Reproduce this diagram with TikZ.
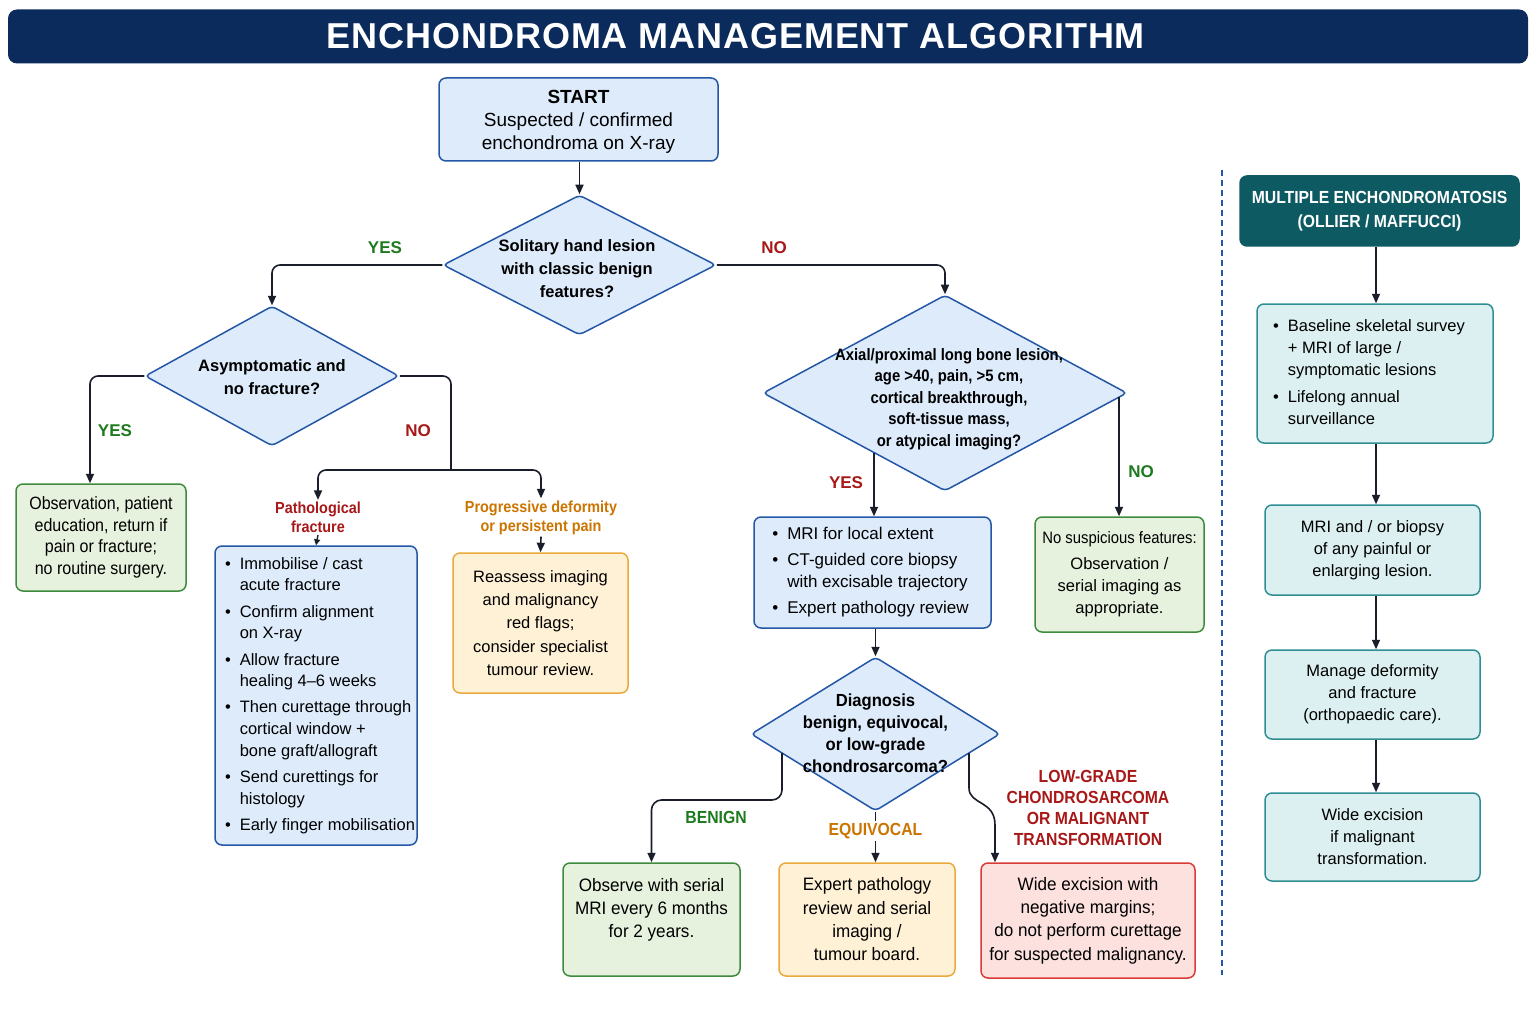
\documentclass[tikz,border=0pt]{standalone}
\usepackage{fontspec}
\setmainfont{Liberation Sans}
\newfontfamily\cond[FakeStretch=0.9]{Liberation Sans}
\newfontfamily\condb[FakeStretch=0.95]{Liberation Sans}
\usetikzlibrary{shapes.geometric,arrows.meta}
\definecolor{navy}{HTML}{0B2B5C}
\definecolor{bblue}{HTML}{2457A6}
\definecolor{bfill}{HTML}{DDEBFB}
\definecolor{ggreen}{HTML}{3E8B3E}
\definecolor{gfill}{HTML}{E6F1DE}
\definecolor{oorange}{HTML}{E9A93B}
\definecolor{ofill}{HTML}{FFF1D6}
\definecolor{rred}{HTML}{D93A3A}
\definecolor{rfill}{HTML}{FCE1DF}
\definecolor{tealh}{HTML}{0D5A63}
\definecolor{tfill}{HTML}{DDF0F1}
\definecolor{tborder}{HTML}{2E8E93}
\definecolor{yesg}{HTML}{1E7A1E}
\definecolor{nored}{HTML}{A81818}
\definecolor{lblor}{HTML}{CC7400}
\definecolor{ink}{HTML}{1A1E2A}
\newcommand\body{\fontsize{16.5}{22}\selectfont}
\newcommand\blist[1]{\begin{tabular}{@{}l@{\hspace{9pt}}l@{}}#1\end{tabular}}
\begin{document}
\begin{tikzpicture}[x=1pt,y=-1pt,
  box/.style={draw, rounded corners=7pt, line width=1.5pt, inner sep=0pt, align=center, font=\body, text=black},
  bluebox/.style={box, draw=bblue, fill=bfill},
  greenbox/.style={box, draw=ggreen, fill=gfill},
  orangebox/.style={box, draw=oorange, fill=ofill},
  redbox/.style={box, draw=rred, fill=rfill},
  tealbox/.style={box, draw=tborder, fill=tfill},
  dia/.style={diamond, draw=bblue, fill=bfill, line width=1.5pt, rounded corners=4pt, inner sep=0pt},
  diatext/.style={align=center, font=\fontsize{16.5}{23}\selectfont\bfseries},
  lbl/.style={font=\fontsize{17}{20}\selectfont\bfseries, align=center, inner sep=2pt},
  arr/.style={draw=ink, line width=1.6pt, -{Triangle[length=9.5pt,width=8pt]}},
  ln/.style={draw=ink, line width=1.6pt},
]
\path[use as bounding box, fill=white] (0,0) rectangle (1536,1024);

% title
\node[fill=navy, rounded corners=9pt, minimum width=1520pt, minimum height=54pt, inner sep=0pt] (title) at (768,36.5) {};
\node[text=white, font=\fontsize{36}{40}\selectfont\bfseries\addfontfeature{LetterSpace=2.5}] (titletext) at (736,36.5)
  {ENCHONDROMA MANAGEMENT ALGORITHM};

% start
\node[bluebox, minimum width=279pt, minimum height=83pt, font=\fontsize{19}{23}\selectfont] (start) at (578.5,119.5) {};
\node[align=center, font=\fontsize{19}{23}\selectfont] (startt) at (578.5,121.5)
  {\textbf{START}\\Suspected / confirmed\\enchondroma on X-ray};

% diamonds
\node[dia, minimum width=273pt, minimum height=140pt] (d1) at (579.5,265) {};
\node[diatext] (d1t) at (577,269) {Solitary hand lesion\\with classic benign\\features?};
\node[dia, minimum width=254pt, minimum height=140pt] (d2) at (272,376) {};
\node[diatext] (d2t) at (272,377) {Asymptomatic and\\no fracture?};
\node[dia, minimum width=364pt, minimum height=196pt] (d3) at (945,393) {};
\node[diatext, font=\fontsize{16.5}{21.6}\selectfont\bfseries\cond] (d3t) at (949,399)
  {Axial/proximal long bone lesion,\\age >40, pain, >5 cm,\\cortical breakthrough,\\soft-tissue mass,\\or atypical imaging?};
\node[dia, minimum width=249pt, minimum height=154pt] (d4) at (875.5,734) {};
\node[diatext, font=\fontsize{17.5}{22}\selectfont\bfseries\condb] (d4t) at (875.5,733)
  {Diagnosis\\benign, equivocal,\\or low-grade\\chondrosarcoma?};

% left branch boxes
\node[greenbox, minimum width=170pt, minimum height=107pt, font=\fontsize{17.8}{21.5}\selectfont\cond] (obs) at (101,537.5)
  {Observation, patient\\education, return if\\pain or fracture;\\no routine surgery.};
\node[lbl, text=nored, font=\fontsize{16}{19}\selectfont\bfseries\cond] (patlab) at (318,517.5) {Pathological\\fracture};
\node[lbl, text=lblor, font=\fontsize{16}{19}\selectfont\bfseries\cond] (proglab) at (541,517.5) {Progressive deformity\\or persistent pain};
\node[bluebox, minimum width=202pt, minimum height=299pt, font=\fontsize{16.5}{21.7}\selectfont] (patbox) at (316,695.5)
  {\hspace*{8pt}\blist{\textbullet & Immobilise / cast\\ & acute fracture\\[4.5pt]
  \textbullet & Confirm alignment\\ & on X-ray\\[4.5pt]
  \textbullet & Allow fracture\\ & healing 4–6 weeks\\[4.5pt]
  \textbullet & Then curettage through\\ & cortical window +\\ & bone graft/allograft\\[4.5pt]
  \textbullet & Send curettings for\\ & histology\\[4.5pt]
  \textbullet & Early finger mobilisation}};
\node[orangebox, minimum width=175pt, minimum height=140pt, font=\fontsize{16.5}{23.2}\selectfont] (reas) at (540.5,623)
  {Reassess imaging\\and malignancy\\red flags;\\consider specialist\\tumour review.};

% middle
\node[bluebox, minimum width=237pt, minimum height=111pt, font=\fontsize{17}{22}\selectfont] (mri) at (872.5,572.5)
  {\blist{\textbullet & MRI for local extent\\[4pt]
  \textbullet & CT-guided core biopsy\\ & with excisable trajectory\\[4pt]
  \textbullet & Expert pathology review}\hspace*{4pt}};
\node[greenbox, minimum width=169pt, minimum height=115pt, font=\fontsize{16.5}{22}\selectfont] (nosus) at (1119.5,574.5)
  {{\cond No suspicious features:}\\[4pt]Observation /\\serial imaging as\\appropriate.};

% bottom
\node[greenbox, minimum width=177pt, minimum height=113pt, font=\fontsize{18}{23.2}\selectfont\condb] (observe) at (651.5,919.5)
  {Observe with serial\\MRI every 6 months\\for 2 years.\\\phantom{X}};
\node[orangebox, minimum width=176pt, minimum height=113pt, font=\fontsize{18}{23.3}\selectfont\condb] (expert) at (867,919.5)
  {Expert pathology\\review and serial\\imaging /\\tumour board.};
\node[redbox, minimum width=214pt, minimum height=115pt, font=\fontsize{18}{23.3}\selectfont\condb] (wide) at (1088,920.5)
  {Wide excision with\\negative margins;\\do not perform curettage\\for suspected malignancy.};

% labels
\node[lbl, text=yesg] (yes1) at (385,248) {YES};
\node[lbl, text=nored] (no1) at (774,248) {NO};
\node[lbl, text=yesg] (yes2) at (115,431) {YES};
\node[lbl, text=nored] (no2) at (418,431) {NO};
\node[lbl, text=nored] (yes3) at (846,483) {YES};
\node[lbl, text=yesg] (no3) at (1141,472) {NO};
\node[lbl, text=yesg, font=\fontsize{17.5}{20}\selectfont\bfseries\cond] (benign) at (716,817) {BENIGN};
\node[lbl, text=nored, font=\fontsize{17.5}{20.7}\selectfont\bfseries\cond] (lowlab) at (1088,808)
  {LOW-GRADE\\CHONDROSARCOMA\\OR MALIGNANT\\TRANSFORMATION};

% coordinates
\coordinate (yes2c) at (90,376);
\coordinate (split) at (451,470);
\coordinate (d3y) at (874,453);
\coordinate (d3n) at (1119,397);
\coordinate (d4bl) at (782,753);
\coordinate (d4br) at (969,753);
\coordinate (lowx) at (995,825);

% connectors
\draw[arr] (d1.north |- start.south) -- (d1.north);
\draw[arr, rounded corners=8pt] (d1.west) -| (d2.north);
\draw[arr, rounded corners=8pt] (d1.east) -| (d3.north);
\draw[arr, rounded corners=8pt] (d2.west) -- (yes2c) -- (yes2c |- obs.north);
\draw[ln, rounded corners=8pt] (d2.east) -| (split);
\draw[arr, rounded corners=8pt] (split) -| (patlab.north);
\draw[arr, rounded corners=8pt] (split) -| (proglab.north);
\draw[ink, line width=1.4pt, -{Triangle[length=6pt,width=6pt]}] (patlab.south) -- (patbox.north);
\draw[arr] (proglab.south) -- (reas.north);
\draw[arr] (d3y) -- (d3y |- mri.north);
\draw[arr] (d3n) -- (d3n |- nosus.north);
\draw[arr] (d4.north |- mri.south) -- (d4.north);
\draw[arr, rounded corners=10pt] (d4bl) -- ++(0,47) -| (observe.north);
\draw[arr] (d4.south) -- (d4.south |- expert.north);
\node[lbl, text=lblor, fill=white, font=\fontsize{17.5}{20}\selectfont\bfseries\cond] (equiv) at (875.5,831) {EQUIVOCAL};
\draw[arr] (d4br) -- ++(0,35) .. controls (969,805) and (995,800) .. (lowx) -- (lowx |- wide.north);

% divider
\coordinate (dvt) at (1222,170);
\coordinate (dvb) at (1222,975);
\draw[draw=bblue, line width=1.5pt, dash pattern=on 6pt off 4pt] (dvt) -- (dvb);

% right panel
\node[box, draw=tealh, fill=tealh, text=white, minimum width=279pt, minimum height=70pt,
  font=\fontsize{17.5}{24}\selectfont\bfseries\cond] (mhead) at (1379.5,211)
  {MULTIPLE ENCHONDROMATOSIS\\(OLLIER / MAFFUCCI)};
\node[tealbox, minimum width=236pt, minimum height=139pt, font=\fontsize{16.5}{22}\selectfont] (ma) at (1375,373.5)
  {\blist{\textbullet & Baseline skeletal survey\\ & + MRI of large /\\ & symptomatic lesions\\[5pt]
  \textbullet & Lifelong annual\\ & surveillance}\hspace*{12pt}};
\node[tealbox, minimum width=215pt, minimum height=90pt, font=\fontsize{16.5}{22}\selectfont] (mb) at (1372.5,550)
  {MRI and / or biopsy\\of any painful or\\enlarging lesion.};
\node[tealbox, minimum width=215pt, minimum height=89pt, font=\fontsize{16.5}{22}\selectfont] (mc) at (1372.5,694.5)
  {Manage deformity\\and fracture\\(orthopaedic care).};
\node[tealbox, minimum width=215pt, minimum height=88pt, font=\fontsize{16.5}{22}\selectfont] (md) at (1372.5,837)
  {Wide excision\\if malignant\\transformation.};
\coordinate (rx) at (1376,0);
\draw[arr] (rx |- mhead.south) -- (rx |- ma.north);
\draw[arr] (rx |- ma.south) -- (rx |- mb.north);
\draw[arr] (rx |- mb.south) -- (rx |- mc.north);
\draw[arr] (rx |- mc.south) -- (rx |- md.north);
\end{tikzpicture}
\end{document}
